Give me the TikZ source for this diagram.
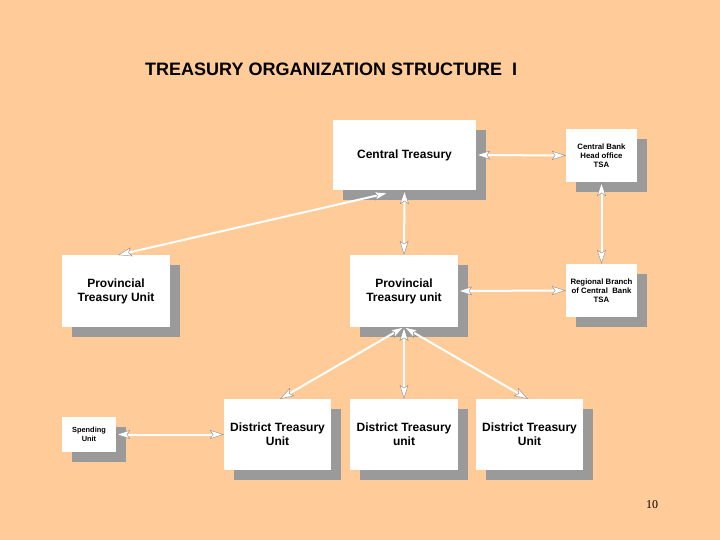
\documentclass[tikz,border=0pt]{standalone}
\usepackage{fontspec}
\setmainfont{Liberation Sans}
\newfontfamily\serifnum{Liberation Serif}
\usetikzlibrary{arrows.meta,shadows}
\definecolor{bgpeach}{HTML}{FFCC99}
\definecolor{shadowgray}{HTML}{9A9A9A}
\tikzset{
  orgbox/.style={draw=none, fill=white, align=center, inner sep=2pt,
    font=\bfseries\fontsize{12}{14}\selectfont,
    drop shadow={shadow xshift=10pt, shadow yshift=-10pt, fill=shadowgray, opacity=1}},
  bigbox/.style={orgbox, minimum width=108pt, minimum height=72pt},
  smallbox/.style={orgbox, minimum width=71pt, minimum height=53pt,
    font=\bfseries\fontsize{7.8}{9}\selectfont},
  link/.style={white, line width=2pt,
    {Stealth[length=14pt,width=9pt,inset=3pt,fill=white,color=black!45,line width=0.4pt]}-{Stealth[length=14pt,width=9pt,inset=3pt,fill=white,color=black!45,line width=0.4pt]}}
}
\begin{document}
\begin{tikzpicture}[x=1pt,y=-1pt]
\fill[bgpeach] (0,0) rectangle (720,540);
\useasboundingbox (0,0) rectangle (720,540);

\node[font=\bfseries\fontsize{18}{21}\selectfont, anchor=base west, inner sep=0pt] (title) at (145,76) {TREASURY ORGANIZATION STRUCTURE\ \ I};

\node[bigbox, minimum width=143pt, minimum height=70pt] (ct) at (404.5,155) {Central Treasury};
\node[smallbox] (cb) at (601.5,155.5) {Central Bank\\Head office\\TSA};
\node[bigbox] (ptl) at (116,291) {Provincial\\Treasury Unit};
\node[bigbox] (ptm) at (404,291) {Provincial\\Treasury unit};
\node[smallbox] (rb) at (601.5,290.5) {Regional Branch\\of Central\ \ Bank\\TSA};
\node[orgbox, minimum width=54pt, minimum height=35pt, font=\bfseries\fontsize{7.4}{9}\selectfont] (su) at (89,434.5) {Spending\\Unit};
\node[bigbox, minimum width=107pt, minimum height=71pt] (dt1) at (277.5,434.5) {District Treasury\\Unit};
\node[bigbox, minimum width=108pt, minimum height=71pt] (dt2) at (404,434.5) {District Treasury\\unit};
\node[bigbox, minimum width=107pt, minimum height=71pt] (dt3) at (529.5,434.5) {District Treasury\\Unit};

\coordinate (ctb) at (388,193);
\coordinate (ptlt) at (118,255);
\coordinate (ptmb) at (404,327);
\coordinate (dt1t) at (280,399);
\coordinate (dt3t) at (528,399);

\draw[link] (ct.east) -- (cb.west);
\draw[link] (ct.south) -- (ptm.north);
\draw[link] (ctb) -- (ptlt);
\draw[link] (cb.south) -- (rb.north);
\draw[link] (ptm.east) -- (rb.west);
\draw[link] (ptmb) -- (dt2.north);
\draw[link] (ptmb) -- (dt1t);
\draw[link] (ptmb) -- (dt3t);
\draw[link] (su.east) -- (dt1.west);

\node[font=\serifnum\fontsize{12}{14}\selectfont] (pg) at (652,505) {10};
\end{tikzpicture}
\end{document}
